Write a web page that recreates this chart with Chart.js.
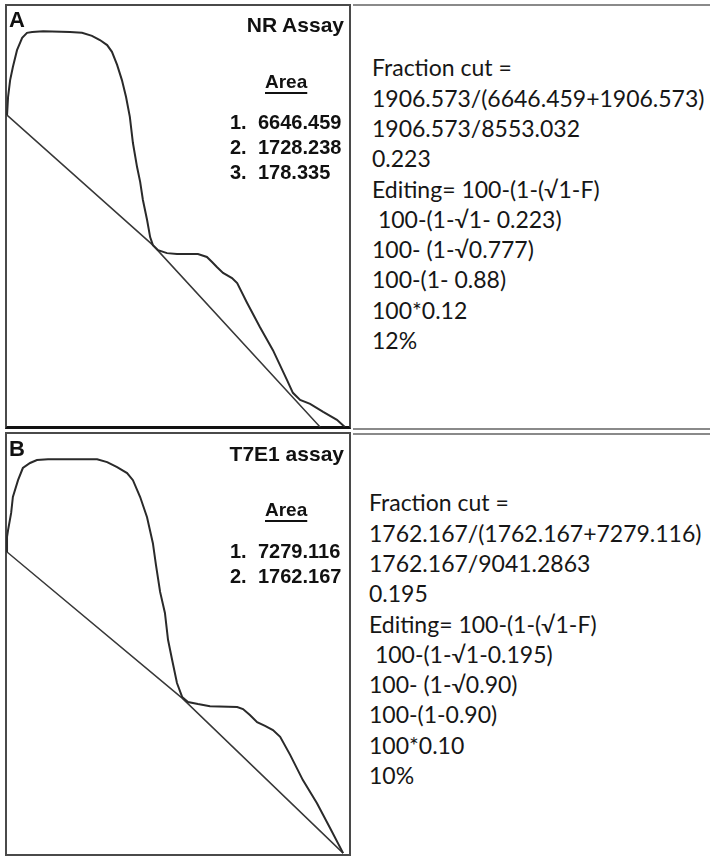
<!DOCTYPE html>
<html>
<head>
<meta charset="utf-8">
<script src="https://cdn.jsdelivr.net/npm/chart.js@4.4.1/dist/chart.umd.min.js"></script>
<style>
  html, body { margin: 0; padding: 0; background: #fff; }
  body   { position: relative; width: 710px; height: 856px; overflow: hidden; }
  .box   { position: absolute; box-sizing: border-box; border: 2px solid #4a4a4a; }
  .rule  { position: absolute; height: 2px; background: #8a8a8a; }
  .lbl   { position: absolute; font-family: "Liberation Sans", Arial, sans-serif; font-weight: bold;
           color: #111; line-height: 1; white-space: pre; }
  .area  { text-decoration: underline; text-decoration-thickness: 2px; text-underline-offset: 4px; }
  .calc  { position: absolute; font-family: Lato, "Open Sans", sans-serif; font-size: 23px;
           line-height: 30.3px; color: #161616; white-space: pre; }
  canvas { position: absolute; }
</style>
</head>
<body>
<div class="box" style="left:5px;top:4px;width:346px;height:425px;border-bottom:3px solid #111"></div>
<div class="box" style="left:5px;top:432px;width:346px;height:424px"></div>
<div class="rule" style="left:353px;top:4px;width:357px"></div>
<div class="rule" style="left:353px;top:428px;width:357px"></div>
<div class="rule" style="left:353px;top:433px;width:357px"></div>
<canvas id="chart-nr" width="344" height="422" style="left:6px;top:5px"></canvas>
<canvas id="chart-t7" width="344" height="420" style="left:6px;top:434px"></canvas>
<script>
'use strict';

// ── Data: NR assay lane profile ─────────────────────────
const nrPosition  = [0.3, 0.6, 1.2, 2.0, 3.2, 4.7, 6.1, 7.6, 10.8, 18.6, 22.1, 25.0, 27.3, 29.4, 30.8,
                     32.3, 33.7, 34.9, 36.0, 36.9, 38.1, 39.0, 39.8, 41.0, 41.9, 42.7, 44.2, 46.8, 49.7,
                     55.8, 58.4, 59.9, 61.3, 63.1, 65.7, 67.2, 70.1, 73.8, 77.6, 81.7, 83.4, 85.5, 88.4,
                     92.2, 96.2, 98.5];
const nrIntensity = [73.9, 78.2, 82.2, 85.3, 89.3, 92.2, 93.4, 93.6, 93.8, 93.6, 93.4, 92.7, 91.7, 90.5, 88.9,
                     85.8, 82.2, 78.2, 73.5, 67.3, 61.6, 58.1, 53.8, 49.1, 45.0, 43.1, 41.9, 41.2, 41.0,
                     41.0, 40.3, 39.1, 37.9, 36.5, 35.3, 34.1, 29.4, 23.7, 18.2, 11.1, 8.1, 6.4, 5.5,
                     3.6, 1.7, 0.0];
const nrBasePos   = [0.3, 42.7, 91.3];
const nrBaseInt   = [73.9, 43.1, 0.0];
const nrAreas     = ['6646.459', '1728.238', '178.335'];

// ── Data: T7E1 assay lane profile ───────────────────────
const t7Position  = [0.3, 0.3, 0.6, 1.5, 2.0, 3.5, 4.9, 7.0, 9.0, 12.2, 26.5, 29.4, 32.3, 35.2, 36.9,
                     39.0, 41.0, 42.7, 43.6, 44.8, 46.2, 47.1, 48.3, 49.7, 51.2, 52.9, 55.8, 59.3, 67.2,
                     68.9, 70.9, 73.0, 75.3, 77.6, 79.7, 82.6, 86.3, 90.4, 94.2, 98.0];
const t7Intensity = [71.9, 75.5, 77.1, 81.2, 85.0, 89.0, 91.9, 93.1, 93.8, 94.0, 94.0, 93.3, 92.1, 90.7, 89.0,
                     85.0, 80.2, 74.0, 68.8, 62.4, 57.4, 51.0, 46.2, 40.7, 37.4, 36.2, 35.7, 35.2, 35.0,
                     34.5, 33.1, 31.4, 30.5, 29.5, 27.9, 23.6, 17.6, 12.1, 6.2, 0.2];
const t7BasePos   = [0.3, 51.2, 98.0];
const t7BaseInt   = [71.9, 37.1, 0.2];
const t7Areas     = ['7279.116', '1762.167'];

// ── Worked calculations ─────────────────────────────────
const nrCalc = ['Fraction cut =', '1906.573/(6646.459+1906.573)', '1906.573/8553.032', '0.223',
                'Editing= 100-(1-(√1-F)', ' 100-(1-√1- 0.223)', '100- (1-√0.777)', '100-(1- 0.88)',
                '100*0.12', '12%'];
const t7Calc = ['Fraction cut =', '1762.167/(1762.167+7279.116)', '1762.167/9041.2863', '0.195',
                'Editing= 100-(1-(√1-F)', ' 100-(1-√1-0.195)', '100- (1-√0.90)', '100-(1-0.90)',
                '100*0.10', '10%'];

// ── Charts ──────────────────────────────────────────────
function toPoints(xs, ys) {
  return xs.map((x, i) => ({ x, y: ys[i] }));
}

function makeChart(id, profX, profY, baseX, baseY) {
  const hidden = { type: 'linear', display: false, min: 0, max: 100 };
  return new Chart(document.getElementById(id), {
    type: 'line',
    data: {
      datasets: [
        { data: toPoints(profX, profY), borderColor: '#2a2a2a', borderWidth: 2,   tension: 0 },
        { data: toPoints(baseX, baseY), borderColor: '#383838', borderWidth: 1.5, tension: 0 },
      ],
    },
    options: {
      responsive: false,
      devicePixelRatio: 1,
      animation: false,
      layout: { padding: 0 },
      elements: { point: { radius: 0 } },
      plugins: { legend: { display: false }, tooltip: { enabled: false } },
      scales: { x: hidden, y: hidden },
    },
  });
}

makeChart('chart-nr', nrPosition, nrIntensity, nrBasePos, nrBaseInt);
makeChart('chart-t7', t7Position, t7Intensity, t7BasePos, t7BaseInt);

// ── Text ────────────────────────────────────────────────
function label(text, size, style, cls) {
  const el = document.createElement('div');
  el.className = 'lbl' + (cls ? ' ' + cls : '');
  el.textContent = text;
  el.style.fontSize = size + 'px';
  Object.assign(el.style, style);
  document.body.appendChild(el);
}

function panelText(letter, title, areas, top) {
  label(letter, 22, { left: '9px', top: (top + 9) + 'px' });
  label(title,  21, { right: '366px', top: (top + 14) + 'px' });
  label('Area', 19, { left: '265px', top: (top + 71.5) + 'px' }, 'area');
  areas.forEach((a, i) => {
    const y = (top + 112.4 + i * 24.6) + 'px';
    label((i + 1) + '.', 20, { left: '230px', top: y });
    label(a,             20, { left: '258px', top: y });
  });
}

function calcText(lines, left, top) {
  const el = document.createElement('div');
  el.className = 'calc';
  el.style.left = left + 'px';
  el.style.top  = top + 'px';
  el.textContent = lines.join('\n');
  document.body.appendChild(el);
}

panelText('A', 'NR Assay',   nrAreas, 0);
panelText('B', 'T7E1 assay', t7Areas, 428.5);
calcText(nrCalc, 372, 52.4);
calcText(t7Calc, 369, 487.4);
</script>
</body>
</html>
